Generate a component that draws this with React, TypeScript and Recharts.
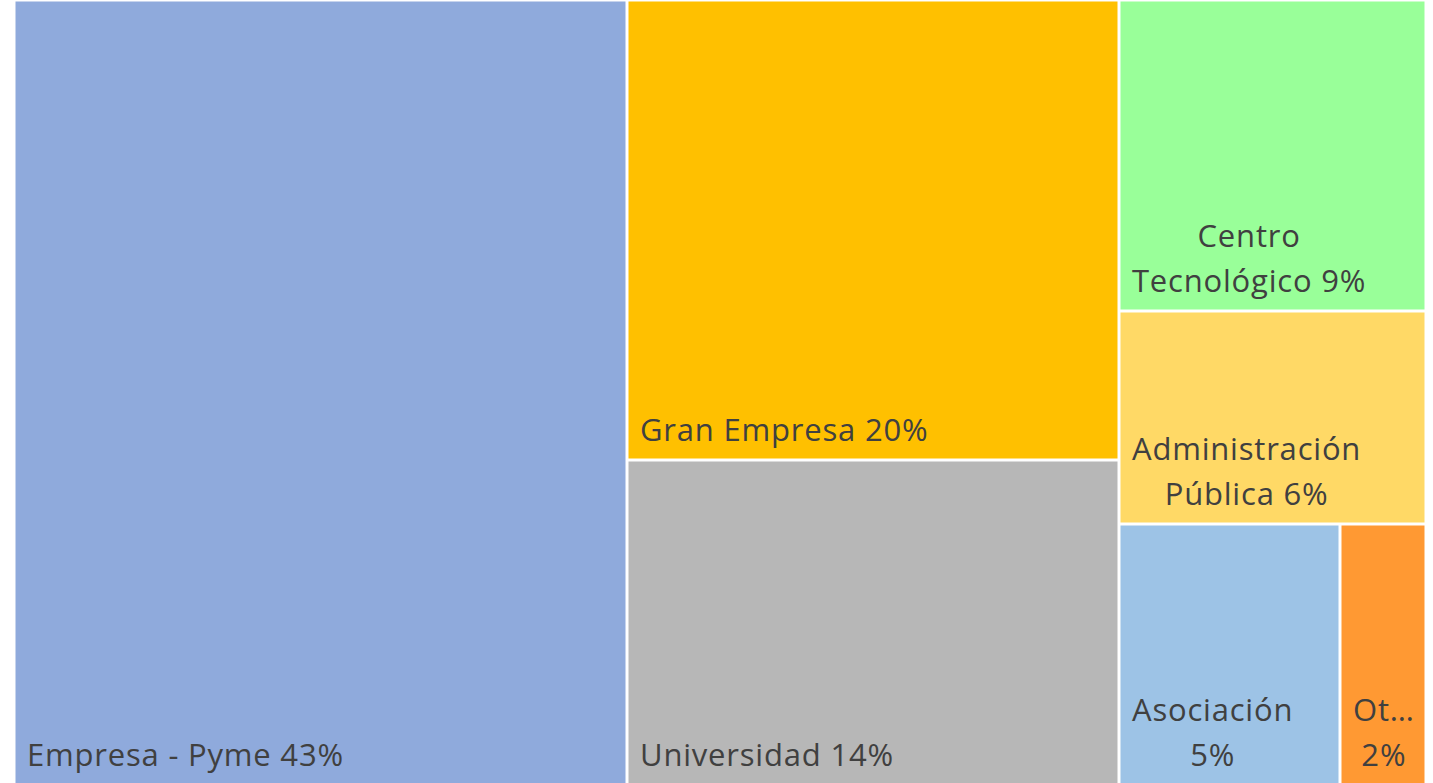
import { Treemap } from "recharts";

const names = [
  "Empresa - Pyme",
  "Gran Empresa",
  "Universidad",
  "Centro Tecnológico",
  "Administración Pública",
  "Asociación",
  "Otros",
];
const shares = [43.4, 20.4, 14.4, 8.6, 5.9, 5.2, 2.0];
const colors = [
  "#8FAADC",
  "#FFC000",
  "#B7B7B7",
  "#99FF99",
  "#FFD966",
  "#9DC3E6",
  "#FF9933",
];

const total = shares.reduce((a, b) => a + b, 0);
const data = names.map((name, i) => ({ name, size: shares[i] }));

const FONT_SIZE = 31;
const FAMILY = "Open Sans";
const FONT = `${FONT_SIZE}px "${FAMILY}"`;
const SPACING = 0.8;
const LINE_H = 45;

let ctx: CanvasRenderingContext2D | null = null;
function measure(text: string) {
  if (!ctx) ctx = document.createElement("canvas").getContext("2d");
  if (!ctx) return text.length * FONT_SIZE * 0.58;
  ctx.font = FONT;
  return ctx.measureText(text).width + text.length * SPACING;
}

function truncate(text: string, maxW: number) {
  let t = text;
  while (t.length > 1 && measure(t + "…") > maxW) t = t.slice(0, -1);
  return t + "…";
}

// greedy word wrap, cutting words that still don't fit
function wrapLabel(text: string, maxW: number) {
  if (measure(text) <= maxW) return [text];
  const lines: string[] = [];
  let cur = "";
  for (const w of text.split(" ")) {
    const cand = cur ? `${cur} ${w}` : w;
    if (measure(cand) <= maxW) cur = cand;
    else {
      if (cur) lines.push(cur);
      cur = w;
    }
  }
  if (cur) lines.push(cur);
  return lines.map((l) => (measure(l) <= maxW ? l : truncate(l, maxW)));
}

function Cell(props: any) {
  const { x, y, width, height, depth, index, name, value } = props;
  if (depth !== 1) return null;
  const pct = Math.round((value / total) * 100);
  const lines = wrapLabel(`${name} ${pct}%`, width - 22);
  const blockW = Math.max(...lines.map(measure));
  const cx = x + 13 + blockW / 2;
  const lastBase = y + height - 19;
  return (
    <g>
      <rect
        x={x + 1.5}
        y={y + 1.5}
        width={Math.max(0, width - 3)}
        height={Math.max(0, height - 3)}
        fill={colors[index]}
      />
      {lines.map((l, i) => (
        <text
          key={i}
          x={cx}
          y={lastBase - (lines.length - 1 - i) * LINE_H}
          textAnchor="middle"
          fontFamily={FAMILY}
          fontSize={FONT_SIZE}
          letterSpacing={SPACING}
          fill="#404040"
        >
          {l}
        </text>
      ))}
    </g>
  );
}

export default function App() {
  return (
    <div style={{ position: "absolute", left: 14, top: 0 }}>
      <Treemap
        width={1412}
        height={785}
        data={data}
        dataKey="size"
        nameKey="name"
        aspectRatio={1}
        isAnimationActive={false}
        content={<Cell />}
      />
    </div>
  );
}
